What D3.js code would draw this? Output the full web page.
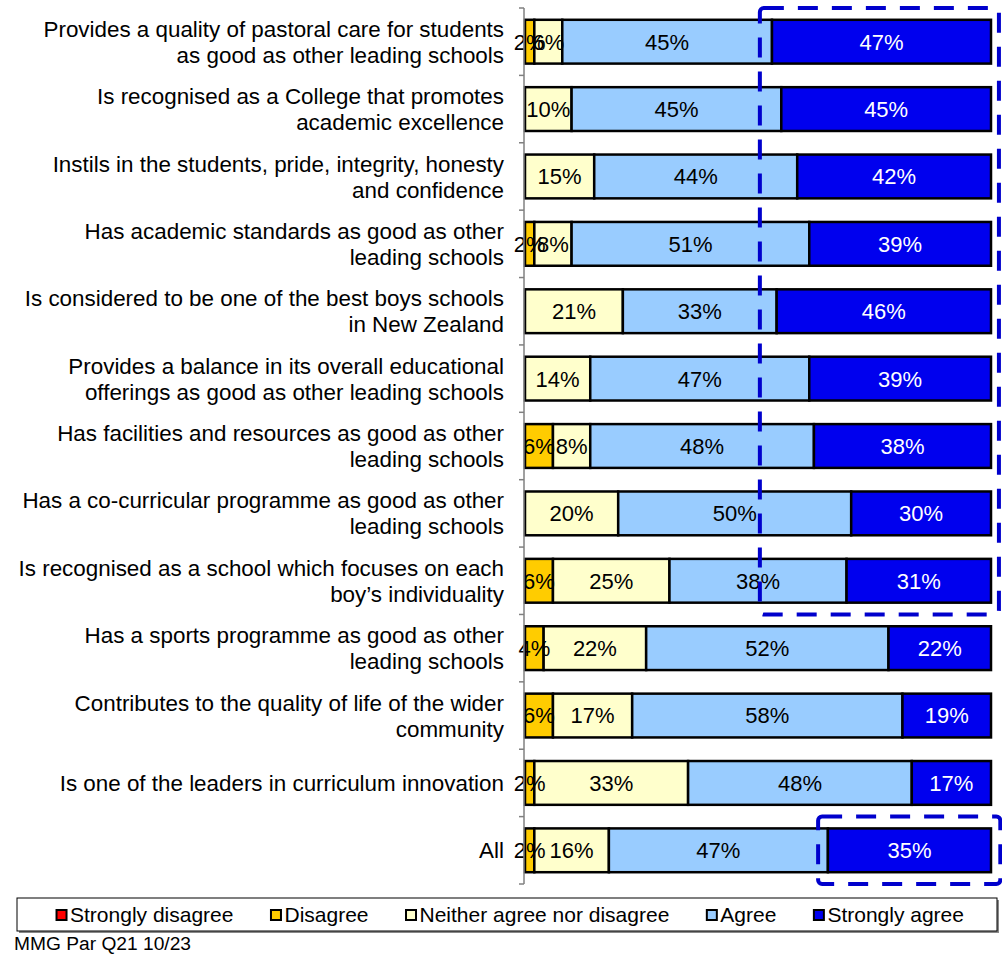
<!DOCTYPE html>
<html>
<head>
<meta charset="utf-8">
<script src="https://cdn.jsdelivr.net/npm/d3@7"></script>
<style>
  html, body { margin: 0; padding: 0; background: #fff; }
  svg { display: block; font-family: Arial, "Liberation Sans", sans-serif; }
</style>
</head>
<body>
<svg id="chart" width="1002" height="954"></svg>
<script>
// ---- Data ----
const categories = [
  ["Provides a quality of pastoral care for students", "as good as other leading schools"],
  ["Is recognised as a College that promotes", "academic excellence"],
  ["Instils in the students, pride, integrity, honesty", "and confidence"],
  ["Has academic standards as good as other", "leading schools"],
  ["Is considered to be one of the best boys schools", "in New Zealand"],
  ["Provides a balance in its overall educational", "offerings as good as other leading schools"],
  ["Has facilities and resources as good as other", "leading schools"],
  ["Has a co-curricular programme as good as other", "leading schools"],
  ["Is recognised as a school which focuses on each", "boy\u2019s individuality"],
  ["Has a sports programme as good as other", "leading schools"],
  ["Contributes to the quality of life of the wider", "community"],
  ["Is one of the leaders in curriculum innovation"],
  ["All"]
];
const seriesNames = ["Strongly disagree", "Disagree", "Neither agree nor disagree", "Agree", "Strongly agree"];
const stronglyDisagree = [0, 0, 0, 0, 0, 0, 0, 0, 0, 0, 0, 0, 0];
const disagree         = [2, 0, 0, 2, 0, 0, 6, 0, 6, 4, 6, 2, 2];
const neither          = [6, 10, 15, 8, 21, 14, 8, 20, 25, 22, 17, 33, 16];
const agree            = [45, 45, 44, 51, 33, 47, 48, 50, 38, 52, 58, 48, 47];
const stronglyAgree    = [47, 45, 42, 39, 46, 39, 38, 30, 31, 22, 19, 17, 35];
const seriesColors = ["#FF0000", "#FFCC00", "#FFFFCC", "#99CCFF", "#0000EE"];
const labelColors  = ["#000", "#000", "#000", "#000", "#fff"];
// highlight annotation boxes (rows inclusive, x as share of bar)
const highlightRows  = [[0, 8], [12, 12]];
const highlightStart = [0.504, 0.629];
const highlightEnd   = [1.017, 1.02];
const footnote = "MMG Par Q21 10/23";

// ---- Build table ----
const seriesArrays = [stronglyDisagree, disagree, neither, agree, stronglyAgree];
const rows = categories.map((c, i) => {
  const r = { idx: i };
  seriesNames.forEach((s, j) => r[s] = seriesArrays[j][i]);
  return r;
});
const stacked = d3.stack().keys(seriesNames).offset(d3.stackOffsetExpand)(rows);

const svg = d3.select("#chart");
const x = d3.scaleLinear().domain([0, 1]).range([525, 991]);
const y = d3.scaleBand().domain(d3.range(categories.length)).range([8, 884]).paddingInner(0.35).paddingOuter(0.175);
const yOuter = d3.scaleBand().domain(d3.range(categories.length)).range([8, 884]);

// Bars
const g = svg.append("g");
stacked.forEach((layer, j) => {
  const lg = g.append("g");
  lg.selectAll("rect").data(layer.filter(d => d.data[seriesNames[j]] > 0)).join("rect")
    .attr("x", d => x(d[0]))
    .attr("y", d => y(d.data.idx))
    .attr("width", d => x(d[1]) - x(d[0]))
    .attr("height", y.bandwidth())
    .attr("fill", seriesColors[j])
    .attr("stroke", "#000")
    .attr("stroke-width", 2.5);
});
// Value labels
stacked.forEach((layer, j) => {
  g.append("g").selectAll("text").data(layer.filter(d => d.data[seriesNames[j]] > 0)).join("text")
    .attr("x", d => (x(d[0]) + x(d[1])) / 2)
    .attr("y", d => y(d.data.idx) + y.bandwidth() / 2)
    .attr("dy", "0.36em")
    .attr("text-anchor", "middle")
    .attr("font-size", 22)
    .attr("fill", labelColors[j])
    .text(d => d.data[seriesNames[j]] + "%");
});

// Axis (category)
const axis = svg.append("g").attr("transform", "translate(524,0)");
axis.append("line").attr("x1", 0).attr("x2", 0).attr("y1", 8).attr("y2", 884).attr("stroke", "#808080").attr("stroke-width", 1.5);
axis.selectAll("line.tick").data(d3.range(categories.length + 1)).join("line")
  .attr("class", "tick")
  .attr("x1", -5).attr("x2", 0)
  .attr("y1", i => i < categories.length ? yOuter(i) : 884)
  .attr("y2", i => i < categories.length ? yOuter(i) : 884)
  .attr("stroke", "#808080").attr("stroke-width", 1.5);

// Category labels
const lineH = 26;
const labels = svg.append("g");
categories.forEach((lines, i) => {
  const cy = yOuter(i) + yOuter.bandwidth() / 2;
  const t = labels.append("text").attr("text-anchor", "end").attr("font-size", 22.4).attr("fill", "#000");
  lines.forEach((ln, k) => {
    t.append("tspan").attr("x", 504)
      .attr("y", cy + (k - (lines.length - 1) / 2) * lineH)
      .attr("dy", "0.36em").text(ln);
  });
});

// Highlight boxes
highlightRows.forEach((rr, k) => {
  const y0 = yOuter(rr[0]), y1 = yOuter(rr[1]) + yOuter.bandwidth();
  svg.append("rect")
    .attr("x", x(highlightStart[k])).attr("y", y0)
    .attr("width", x(highlightEnd[k]) - x(highlightStart[k]))
    .attr("height", y1 - y0)
    .attr("rx", 4)
    .attr("fill", "none").attr("stroke", "#0000CC")
    .attr("stroke-width", 4).attr("stroke-dasharray", "20,14");
});

// Legend
const lg = svg.append("g");
lg.append("rect").attr("x", 19).attr("y", 900).attr("width", 980).attr("height", 33).attr("fill", "#888");
lg.append("rect").attr("x", 17).attr("y", 898).attr("width", 980).attr("height", 33).attr("fill", "#fff").attr("stroke", "#000").attr("stroke-width", 1);
const items = lg.append("g");
let cx = 0;
const gap = 37;
seriesNames.forEach((s, j) => {
  const it = items.append("g").attr("transform", `translate(${cx},0)`);
  it.append("rect").attr("x", 0.5).attr("y", 910).attr("width", 10).attr("height", 10)
    .attr("fill", seriesColors[j]).attr("stroke", "#000").attr("stroke-width", 2);
  const tx = it.append("text").attr("x", 14).attr("y", 922).attr("font-size", 21).text(s);
  cx += 14 + tx.node().getComputedTextLength() + gap;
});
const totalW = cx - gap;
items.attr("transform", `translate(${510 - totalW / 2},0)`);

// Footnote
svg.append("text").attr("x", 14).attr("y", 950).attr("font-size", 19.2).attr("fill", "#000").text(footnote);
</script>
</body>
</html>
